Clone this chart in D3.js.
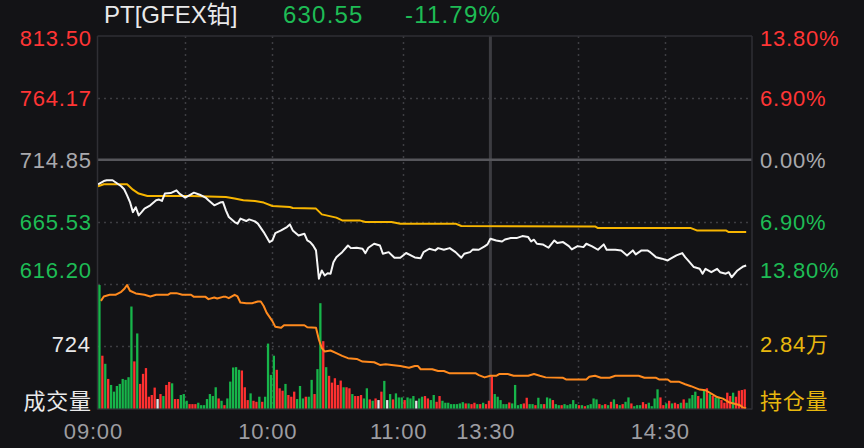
<!DOCTYPE html>
<html><head><meta charset="utf-8">
<script src="https://cdn.jsdelivr.net/npm/d3@7"></script>
<style>
html,body{margin:0;padding:0;background:#131316;}
svg{display:block;}
text{font-family:"Liberation Sans","Noto Sans CJK SC",Arial,sans-serif;}
</style></head><body>
<svg id="c" width="864" height="448"></svg>
<script>
// ---------- data ----------
const title = "PT[GFEX铂]";
const lastPrice = "630.55";
const lastChange = "-11.79%";
const prevClose = 714.85;
const priceTickValues = [813.50, 764.17, 714.85, 665.53, 616.20];
const priceTickLabels = ["813.50", "764.17", "714.85", "665.53", "616.20"];
const pctTickLabels = ["13.80%", "6.90%", "0.00%", "6.90%", "13.80%"];
const timeTickMinutes = [0, 60, 105, 135, 195];
const timeTickLabels = ["09:00", "10:00", "11:00", "13:30", "14:30"];
const gridMinutes = [30, 60, 105, 165, 195];
const sessionBreakMinute = 135;
const totalMinutes = 225;
const volumeMax = 1448;
const volumeMid = 724;
const volumeMidLabel = "724";
const volumeName = "成交量";
const oiDomain = [27800, 29000];
const oiMidLabel = "2.84万";
const oiName = "持仓量";

const priceMinutes = [0,2,3,5,6,8,9,10,11,12,13,14,15,16,18,20,21,22,23,25,27,28,30,32,33,35,37,38,40,42,43,44,45,47,48,49,51,52,54,55,57,59,60,61,63,65,66,67,69,71,72,73,74,75,76,77,78,79,80,81,82,84,86,87,89,91,92,93,95,97,98,100,102,104,106,109,111,112,114,116,117,119,121,123,125,126,128,129,131,133,134,135,137,139,140,142,144,146,148,149,150,151,153,155,157,158,160,162,163,165,167,168,170,172,174,175,178,180,182,184,185,187,189,190,192,194,196,197,199,201,202,203,205,207,208,209,211,213,214,216,217,218,220,222,223];
const priceValues = [695.3,697.9,698.5,698.5,696.9,693.7,691.3,686.5,681.1,673.1,677.0,670.5,673.1,675.9,678.5,682.5,683.1,682.0,687.9,688.3,690.5,687.9,684.7,687.3,688.6,687.0,684.7,682.5,678.5,680.7,681.1,674.5,669.2,665.2,663.9,667.9,666.0,667.3,665.7,663.9,657.2,649.2,650.5,656.4,658.5,661.2,663.3,658.5,654.5,655.9,650.5,649.2,646.5,642.6,620.0,626.6,622.6,624.4,624.0,633.2,637.2,641.2,646.5,644.4,644.7,643.9,640.4,644.7,647.9,646.5,639.9,641.2,636.7,636.7,640.5,637.0,636.4,641.2,643.9,642.6,644.4,643.1,644.4,641.2,636.7,639.9,641.2,643.4,643.1,645.8,647.4,651.9,650.5,649.7,651.3,652.4,652.4,654.0,653.2,649.7,651.1,647.9,647.3,644.7,650.5,648.4,649.2,646.0,643.4,646.0,645.2,647.9,645.8,643.1,647.4,643.1,643.1,642.6,638.6,642.6,639.4,642.6,642.6,641.2,637.2,636.0,634.6,636.0,638.6,640.4,637.2,634.6,629.3,627.9,624.0,627.9,625.2,627.9,625.2,624.0,625.2,621.2,626.6,629.8,630.55];

const avgMinutes = [0,2,10,12,14,17,32,44,47,50,54,57,60,66,67,75,77,82,84,90,92,101,104,123,125,171,172,204,206,216,217,223];
const avgValues = [693.7,695.3,695.3,691.0,687.9,685.9,685.9,685.1,683.9,682.5,682.0,680.7,678.0,677.2,676.4,675.9,671.3,668.7,666.5,666.5,665.2,665.2,663.9,663.9,662.0,661.7,660.4,660.4,658.5,658.5,657.2,657.2];

// one bar per minute from 09:00 (trading minutes)
const volumes = [
1436,614,520,344,274,196,262,286,344,333,
364,1186,548,873,286,403,470,137,157,243,
110,168,145,274,309,293,110,110,157,168,
90,51,51,51,67,39,39,110,168,145,
247,117,90,39,117,313,477,481,450,442,
247,98,176,90,78,137,78,137,755,391,
614,450,235,207,286,157,137,196,110,262,
117,137,137,333,168,458,1225,783,481,380,
301,352,274,325,247,247,235,168,145,145,
157,117,235,106,90,117,98,196,321,98,
168,106,176,129,129,98,129,117,145,90,
117,137,145,117,98,157,78,145,90,67,
67,51,51,51,59,74,59,59,51,67,
51,51,67,51,90,372,168,137,98,51,
51,70,59,274,39,51,59,125,51,51,
39,125,51,51,129,117,98,51,39,39,
51,39,51,98,51,39,39,27,39,51,
117,106,51,39,51,39,78,106,51,39,
51,78,129,59,27,39,39,74,51,67,
27,117,223,129,39,59,90,59,67,51,
67,106,67,117,157,196,145,117,215,235,
168,145,129,129,98,67,184,145,184,137,
207,215,223];
// r = up (red), g = down (green), w = unchanged (white)
const volumeColorCodes = (
"grgrgggggg"+"ggrgrrrrrr"+"wrgrrgrrgg"+"grrrgggggg"+"grgrgggggr"+
"rrgrrgrggg"+"grrrgrrrgg"+"grggrggrgr"+"rrrrgrrgrr"+"rggrgrwrgw"+
"grgggrgggw"+"g"+
"grrggrrggg"+"gggggrgrrg"+"rgrrrggggg"+"rggggrrggr"+"ggrggrggrg"+
"ggggrgrggg"+"grgrgrgrgr"+"ggrgggrrgg"+"ggrrgrgrrg"+"rggggrggrg"+
"rggrrrrgrr"+"rr").split("");

const oiMinutes = [1,2,4,6,8,9,10,11,13,16,18,20,24,25,27,29,32,33,37,38,40,41,43,44,45,47,48,49,51,53,55,56,57,58,60,61,63,64,66,71,72,75,76,77,78,80,82,84,86,89,91,95,97,99,101,104,107,109,110,111,115,117,119,121,130,131,133,135,137,138,141,143,148,150,152,154,160,161,168,169,171,173,176,178,186,188,192,193,196,197,200,202,204,207,209,211,213,215,217,220,221,222,223];
const oiValues = [28837,28880,28896,28896,28925,28951,28990,28935,28909,28896,28880,28896,28896,28912,28912,28896,28896,28876,28876,28854,28870,28860,28876,28876,28863,28896,28880,28821,28815,28815,28831,28831,28788,28724,28642,28587,28578,28603,28603,28603,28583,28578,28463,28382,28349,28359,28334,28307,28285,28278,28252,28246,28220,28226,28220,28210,28193,28210,28210,28178,28178,28161,28161,28139,28139,28122,28100,28115,28115,28132,28132,28115,28115,28132,28115,28100,28096,28080,28080,28105,28115,28096,28096,28115,28115,28096,28096,28080,28080,28057,28057,28034,28015,27982,27976,27943,27910,27895,27861,27839,27829,27807,27803];

// ---------- drawing ----------
const svg = d3.select("#c");
const W = 864, H = 448;
const L = 98, R = 752, PT = 36, PB = 283.5, VT = 284, VB = 408.5;
const FONT = 22, LS = 0.8;

const colors = {
  bg: "#131316", frame: "#2f2f34", grid: "#3d3d42", zero: "#56565b", brk: "#3c3c41",
  red: "#ff3535", green: "#1ebc55", gray: "#a9a9ad", white: "#e9e9ea",
  price: "#f6f6f6", avg: "#f7b500", oi: "#ff8a1e", yellow: "#e8b70e", time: "#9d9da2",
  barRed: "#ff3030", barGreen: "#17b54a", barWhite: "#e6e6e6"
};

svg.append("rect").attr("width", W).attr("height", H).attr("fill", colors.bg);

const x = d3.scaleLinear().domain([0, totalMinutes]).range([L, R]);
const yP = d3.scaleLinear().domain([priceTickValues[4], priceTickValues[0]]).range([PB, PT]);
const yV = d3.scaleLinear().domain([0, volumeMax]).range([VB, VT]);
const yOI = d3.scaleLinear().domain(oiDomain).range([VB, VT]);

const g = svg.append("g");

// dotted grid
const dot = "2,4";
[priceTickValues[1], priceTickValues[3], priceTickValues[4]].forEach(v => {
  g.append("line").attr("x1", L).attr("x2", R).attr("y1", Math.round(yP(v)) + 0.5).attr("y2", Math.round(yP(v)) + 0.5)
    .attr("stroke", colors.grid).attr("stroke-width", 1.5).attr("stroke-dasharray", dot);
});
g.append("line").attr("x1", L).attr("x2", R).attr("y1", Math.round(yV(volumeMid)) + 0.5).attr("y2", Math.round(yV(volumeMid)) + 0.5)
  .attr("stroke", colors.grid).attr("stroke-width", 1.5).attr("stroke-dasharray", dot);
gridMinutes.forEach(m => {
  g.append("line").attr("x1", Math.round(x(m)) + 0.5).attr("x2", Math.round(x(m)) + 0.5).attr("y1", PT).attr("y2", VB)
    .attr("stroke", colors.grid).attr("stroke-width", 1.5).attr("stroke-dasharray", dot);
});
// session break and previous close
g.append("line").attr("x1", x(sessionBreakMinute)).attr("x2", x(sessionBreakMinute)).attr("y1", PT).attr("y2", VB)
  .attr("stroke", colors.brk).attr("stroke-width", 3);
g.append("line").attr("x1", L).attr("x2", R).attr("y1", yP(prevClose)).attr("y2", yP(prevClose))
  .attr("stroke", colors.zero).attr("stroke-width", 2.5);

// frame
g.append("line").attr("x1", L - 0.5).attr("x2", L - 0.5).attr("y1", PT).attr("y2", VB + 1).attr("stroke", colors.frame).attr("stroke-width", 1.5);
g.append("line").attr("x1", R).attr("x2", R).attr("y1", PT).attr("y2", VB + 1).attr("stroke", colors.frame).attr("stroke-width", 1.5);
g.append("line").attr("x1", L - 0.5).attr("x2", R).attr("y1", PT).attr("y2", PT).attr("stroke", colors.frame).attr("stroke-width", 1.5);
g.append("line").attr("x1", L - 0.5).attr("x2", R).attr("y1", VB + 0.5).attr("y2", VB + 0.5).attr("stroke", colors.frame).attr("stroke-width", 1.5);

// volume bars
const barColor = c => c === "r" ? colors.barRed : c === "g" ? colors.barGreen : colors.barWhite;
g.append("g").selectAll("rect").data(volumes).join("rect")
  .attr("x", (d, i) => x(i + 0.5) - 1.15)
  .attr("width", 2.3)
  .attr("y", d => yV(d))
  .attr("height", d => VB - yV(d))
  .attr("fill", (d, i) => barColor(volumeColorCodes[i]));

// clip
svg.append("clipPath").attr("id", "clipP").append("rect").attr("x", L).attr("y", PT).attr("width", R - L).attr("height", PB - PT);
svg.append("clipPath").attr("id", "clipV").append("rect").attr("x", L).attr("y", VT).attr("width", R - L).attr("height", VB - VT);

// open interest line
const oiLine = d3.line().x((d, i) => x(oiMinutes[i])).y(d => yOI(d)).curve(d3.curveLinear);
g.append("path").attr("clip-path", "url(#clipV)").attr("d", oiLine(oiValues))
  .attr("fill", "none").attr("stroke", colors.oi).attr("stroke-width", 2).attr("stroke-linejoin", "round");

// average price line
const avgLine = d3.line().x((d, i) => x(avgMinutes[i])).y(d => yP(d));
g.append("path").attr("clip-path", "url(#clipP)").attr("d", avgLine(avgValues))
  .attr("fill", "none").attr("stroke", colors.avg).attr("stroke-width", 2).attr("stroke-linejoin", "round");

// price line
const priceLine = d3.line().x((d, i) => x(priceMinutes[i])).y(d => yP(d));
g.append("path").attr("clip-path", "url(#clipP)").attr("d", priceLine(priceValues))
  .attr("fill", "none").attr("stroke", colors.price).attr("stroke-width", 2).attr("stroke-linejoin", "round");

// ---------- texts ----------
const T = svg.append("g").attr("font-size", FONT).attr("letter-spacing", LS);
// header
T.append("text").attr("x", 104).attr("y", 22.5).attr("font-size", 24).attr("letter-spacing", 0).attr("fill", colors.white).text(title);
T.append("text").attr("x", 283).attr("y", 22.5).attr("font-size", 24).attr("letter-spacing", 1.2).attr("fill", colors.green).text(lastPrice);
T.append("text").attr("x", 405).attr("y", 22.5).attr("font-size", 24).attr("letter-spacing", 1.2).attr("fill", colors.green).text(lastChange);

const tickColor = i => i < 2 ? colors.red : i === 2 ? colors.gray : colors.green;
const labelY = v => Math.min(Math.max(yP(v), PT + 2), PB - 13.5);
priceTickValues.forEach((v, i) => {
  T.append("text").attr("x", 91 + LS).attr("y", labelY(v)).attr("dy", "0.36em").attr("text-anchor", "end")
    .attr("fill", tickColor(i)).text(priceTickLabels[i]);
  T.append("text").attr("x", 760).attr("y", labelY(v)).attr("dy", "0.36em")
    .attr("fill", tickColor(i)).text(pctTickLabels[i]);
});
T.append("text").attr("x", 90 + LS).attr("y", yV(volumeMid) - 2).attr("dy", "0.36em").attr("text-anchor", "end").attr("fill", colors.white).text(volumeMidLabel);
T.append("text").attr("x", 91 + LS).attr("y", VB - 7).attr("dy", "0.36em").attr("text-anchor", "end").attr("fill", colors.white).text(volumeName);
T.append("text").attr("x", 760).attr("y", yOI((oiDomain[0] + oiDomain[1]) / 2) - 2).attr("dy", "0.36em").attr("fill", colors.yellow).text(oiMidLabel);
T.append("text").attr("x", 760).attr("y", VB - 7).attr("dy", "0.36em").attr("fill", colors.yellow).text(oiName);

timeTickMinutes.forEach((m, i) => {
  T.append("text").attr("x", x(m) - 5 + LS / 2).attr("y", 431).attr("dy", "0.36em").attr("text-anchor", "middle")
    .attr("fill", colors.time).text(timeTickLabels[i]);
});
</script>
</body></html>
